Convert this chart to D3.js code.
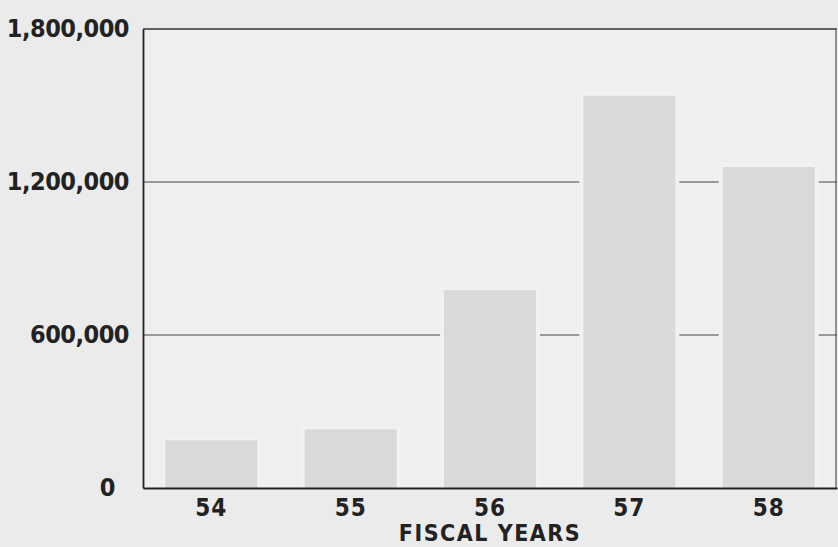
<!DOCTYPE html>
<html>
<head>
<meta charset="utf-8">
<script src="https://cdn.jsdelivr.net/npm/d3@7"></script>
<style>
  body { margin: 0; background: #ebebeb; }
  svg { display: block; }
  text { font-family: "DejaVu Sans Condensed", "DejaVu Sans", sans-serif; font-weight: bold; fill: #222; }
</style>
</head>
<body>
<div id="chart"></div>
<script>
// fiscal years and amounts
var years = ["54", "55", "56", "57", "58"];
var amounts = [187000, 230000, 776000, 1538000, 1259000];
var yTicks = [0, 600000, 1200000, 1800000];
var xTitle = "FISCAL YEARS";

var width = 838, height = 547;
var margin = {top: 29, right: 1, bottom: 59, left: 143};

var svg = d3.select("#chart")
  .append("svg")
  .attr("width", width)
  .attr("height", height);

svg.append("rect")
  .attr("width", width).attr("height", height)
  .attr("fill", "#ebebeb");

var x = d3.scaleBand()
  .domain(years)
  .range([margin.left, width - margin.right])
  .paddingInner(0.34)
  .paddingOuter(0.16);

var y = d3.scaleLinear()
  .domain([0, 1800000])
  .range([height - margin.bottom, margin.top]);

// plot area, slightly lighter than the page
svg.append("rect")
  .attr("x", margin.left).attr("y", margin.top)
  .attr("width", width - margin.right - margin.left)
  .attr("height", y(0) - margin.top)
  .attr("fill", "#efefef");

// gridlines
svg.selectAll(".grid")
  .data(yTicks.slice(1, 3))
  .enter()
  .append("line")
  .attr("x1", margin.left).attr("x2", width - margin.right)
  .attr("y1", d => y(d)).attr("y2", d => y(d))
  .attr("stroke", "#444")
  .attr("stroke-width", 1.2);

// halo round the bars so the gridlines stop short of them
svg.selectAll(".halo")
  .data(amounts)
  .enter()
  .append("rect")
  .attr("x", (d, i) => x(years[i]) - 4)
  .attr("width", x.bandwidth() + 8)
  .attr("y", d => y(d) - 4)
  .attr("height", d => y(0) - y(d) + 4)
  .attr("fill", "#f1f1f1");

svg.selectAll(".bar")
  .data(amounts)
  .enter()
  .append("rect")
  .attr("x", (d, i) => x(years[i]))
  .attr("width", x.bandwidth())
  .attr("y", d => y(d))
  .attr("height", d => y(0) - y(d))
  .attr("fill", "#d9d9d9");

// frame: top and right thin, left and bottom heavier
svg.append("line")
  .attr("x1", margin.left).attr("x2", width - margin.right)
  .attr("y1", margin.top).attr("y2", margin.top)
  .attr("stroke", "#333").attr("stroke-width", 1.5);
svg.append("line")
  .attr("x1", width - margin.right - 1).attr("x2", width - margin.right - 1)
  .attr("y1", margin.top).attr("y2", y(0))
  .attr("stroke", "#555").attr("stroke-width", 1.2);

var yAxis = svg.append("g")
  .attr("transform", "translate(" + margin.left + ",0)")
  .call(d3.axisLeft(y).tickValues(yTicks).tickSize(0).tickPadding(14).tickFormat(d3.format(",")));
yAxis.select(".domain").attr("stroke", "#222").attr("stroke-width", 1.8);
yAxis.selectAll("text")
  .style("font-size", "25px")
  .attr("fill", "#222")
  .attr("letter-spacing", "-0.5")
  .attr("dy", "0.28em")
  .attr("x", d => d === 0 ? -28 : -14);

var xAxis = svg.append("g")
  .attr("transform", "translate(0," + y(0) + ")")
  .call(d3.axisBottom(x).tickSize(0).tickPadding(11));
xAxis.select(".domain").attr("stroke", "#222").attr("stroke-width", 2.2);
xAxis.selectAll("text")
  .style("font-size", "24px")
  .attr("fill", "#222")
  .attr("letter-spacing", "1");

svg.append("text")
  .attr("x", (margin.left + width - margin.right) / 2)
  .attr("y", 541)
  .attr("text-anchor", "middle")
  .attr("letter-spacing", "1.5")
  .style("font-size", "23px")
  .text(xTitle);
</script>
</body>
</html>
